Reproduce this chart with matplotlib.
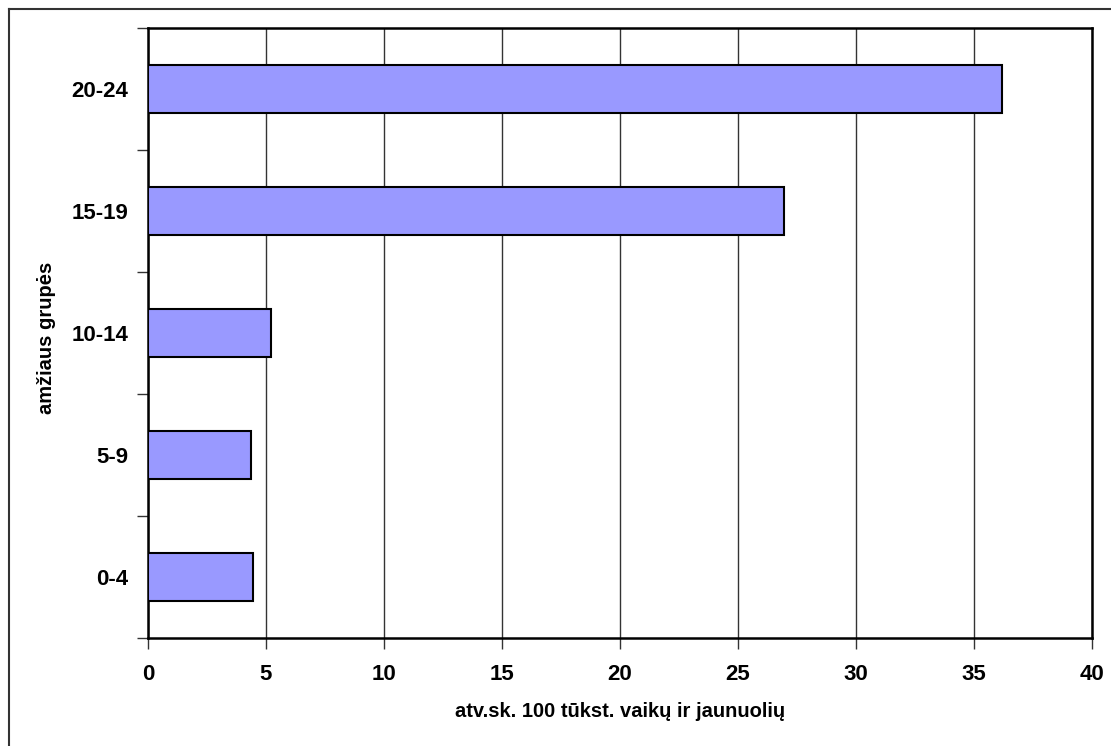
import matplotlib
matplotlib.use("Agg")
import matplotlib.pyplot as plt
from matplotlib.lines import Line2D

# data
groups = ["0-4", "5-9", "10-14", "15-19", "20-24"]
rates = [4.43, 4.35, 5.2, 26.96, 36.2]
xticks = [0, 5, 10, 15, 20, 25, 30, 35, 40]

plt.rcParams['font.family'] = ['Liberation Sans', 'DejaVu Sans']

fig = plt.figure(figsize=(11.11, 7.46), dpi=100)
ax = fig.add_axes([148/1111, 1 - 638/746, 944/1111, 610/746])

pos = list(range(len(groups)))
ax.barh(pos, rates, height=0.4, color='#9999FF', edgecolor='black',
        linewidth=1.5, zorder=3)

ax.set_xlim(0, 40)
ax.set_ylim(-0.5, len(groups) - 0.5)
ax.set_xticks(xticks)
ax.set_xticklabels([str(t) for t in xticks], fontsize=16, fontweight='bold')
ax.xaxis.grid(True, color='#333333', linewidth=1, zorder=0)

# category labels centred, ticks on the boundaries
ax.set_yticks(pos)
ax.set_yticklabels(groups, fontsize=16, fontweight='bold')
ax.set_yticks([p - 0.5 for p in pos] + [len(groups) - 0.5], minor=True)
ax.tick_params(axis='y', which='major', length=0, pad=14)
ax.tick_params(axis='y', which='minor', length=8, width=1, color='#333333')
ax.tick_params(axis='x', length=8, width=1, color='#333333', pad=11)

for s in ax.spines.values():
    s.set_linewidth(1.8)
    s.set_color('black')

ax.set_xlabel("atv.sk. 100 tūkst. vaikų ir jaunuolių", fontsize=14.5,
              fontweight='bold', labelpad=12)
fig.text(47/1111, 1 - 338/746, "amžiaus grupės", rotation=90, fontsize=14.5,
         fontweight='bold', ha='center', va='center')

# outer chart border (cut by the image on the right and bottom)
fig.add_artist(Line2D([9/1111, 9/1111], [0, 1 - 9/746], transform=fig.transFigure,
                      color='#333333', linewidth=1.5))
fig.add_artist(Line2D([9/1111, 1], [1 - 9/746, 1 - 9/746], transform=fig.transFigure,
                      color='#333333', linewidth=1.5))

plt.savefig('out.png', dpi=100)
